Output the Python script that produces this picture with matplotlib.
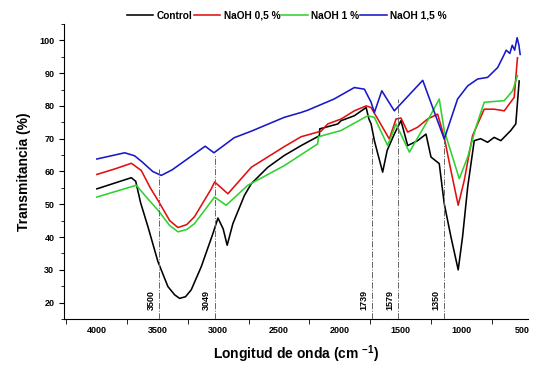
import numpy as np
import matplotlib.pyplot as plt
from matplotlib.ticker import MultipleLocator, FixedLocator

plt.rcParams['font.family'] = ['Liberation Sans', 'DejaVu Sans']
plt.rcParams['font.weight'] = 'bold'
plt.rcParams['mathtext.fontset'] = 'custom'
plt.rcParams['mathtext.bf'] = 'Liberation Sans:bold'
plt.rcParams['mathtext.rm'] = 'Liberation Sans:bold'

# wavenumber (cm-1) / transmittance (%)
control_wn = [4000, 3850, 3716, 3680, 3640, 3579, 3497, 3415, 3360, 3319, 3270, 3223, 3141,
              3044, 3003, 2960, 2927, 2880, 2785, 2728, 2592, 2456, 2318, 2168, 2165, 2016,
              1989, 1880, 1783, 1760, 1742, 1715, 1687, 1647, 1610, 1551, 1496, 1441, 1359,
              1290, 1249, 1181, 1140, 1085, 1025, 989, 947, 893, 840, 783, 729, 674, 592,
              551, 523]
control_t = [54.7, 56.5, 58.1, 57.0, 50.5, 43.1, 32.5, 24.9, 22.4, 21.3, 21.8, 23.9, 30.9,
             41.1, 45.8, 42.5, 37.5, 44.1, 52.7, 56.3, 61.3, 64.9, 67.9, 70.9, 73.0, 74.5,
             75.5, 77.0, 79.5, 76.0, 74.5, 69.4, 65.4, 59.8, 66.4, 71.4, 75.5, 67.9, 69.4,
             71.4, 64.4, 62.4, 50.2, 40.1, 30.0, 40.1, 55.2, 69.4, 70.0, 68.9, 70.4, 69.4,
             72.5, 74.5, 87.6]

naoh05_wn = [4000, 3850, 3716, 3634, 3560, 3497, 3400, 3332, 3260, 3196, 3058, 3030, 2921,
             2728, 2456, 2318, 2154, 2099, 1989, 1880, 1783, 1742, 1592, 1537, 1496, 1441,
             1359, 1277, 1194, 1140, 1085, 1025, 975, 907, 811, 729, 646, 564, 537]
naoh05_t = [59.1, 60.8, 62.5, 60.3, 55.0, 51.2, 45.0, 42.9, 43.8, 46.2, 54.7, 56.8, 53.2,
            61.3, 67.6, 70.6, 72.3, 74.5, 76.0, 78.5, 80.0, 79.5, 69.9, 76.0, 76.3, 72.0,
            73.5, 76.0, 77.5, 70.4, 60.3, 49.7, 57.3, 70.9, 79.0, 79.0, 78.5, 82.6, 94.7]

naoh1_wn = [4000, 3675, 3600, 3497, 3400, 3332, 3260, 3196, 3031, 2935, 2757, 2456, 2182,
            2175, 1989, 1770, 1715, 1606, 1537, 1427, 1277, 1181, 1140, 1016, 947, 879, 811,
            646, 577, 537]
naoh1_t = [52.2, 55.8, 52.5, 48.2, 43.5, 41.6, 42.3, 44.1, 52.2, 49.7, 55.8, 61.8, 68.4,
           70.6, 72.5, 77.0, 76.5, 67.9, 74.5, 65.9, 75.5, 82.1, 72.5, 57.8, 64.4, 73.5,
           81.1, 81.6, 84.6, 89.2]

naoh15_wn = [4000, 3771, 3690, 3630, 3540, 3470, 3380, 3108, 3036, 2869, 2728, 2458, 2318,
             2263, 2047, 1880, 1797, 1742, 1715, 1654, 1551, 1317, 1140, 1030, 947, 865, 783,
             700, 646, 630, 600, 580, 560, 540, 525, 515]
naoh15_t = [63.8, 65.7, 64.8, 63.0, 60.0, 58.8, 60.5, 67.7, 65.7, 70.3, 72.3, 76.5, 78.0,
            78.7, 82.1, 85.6, 85.1, 81.1, 78.0, 84.6, 78.5, 87.8, 69.9, 82.1, 86.1, 88.2,
            88.7, 91.7, 95.7, 97.0, 96.0, 98.5, 97.0, 100.8, 98.5, 95.7]

series = [
    ('Control', control_wn, control_t, 'black'),
    ('NaOH 0,5 %', naoh05_wn, naoh05_t, '#e01010'),
    ('NaOH 1 %', naoh1_wn, naoh1_t, '#2fd12f'),
    ('NaOH 1,5 %', naoh15_wn, naoh15_t, '#1818c8'),
]

# marked bands: line position, label, top of the line
band_pos = [3488, 3031, 1737, 1523, 1140]
band_label = ['3500', '3049', '1739', '1579', '1350']
band_top = [60.8, 64.9, 70.9, 82.0, 69.4]

fig = plt.figure(figsize=(5.57, 3.74), dpi=100)
ax = fig.add_axes([0.115, 0.147, 0.833, 0.789])

for name, wn, t, c in series:
    ax.plot(wn, t, color=c, lw=1.15, label=name)

for pos, lab, top in zip(band_pos, band_label, band_top):
    ax.plot([pos, pos], [15, top], color='#666666', lw=0.7, ls='-.')
    ax.annotate(lab, xy=(pos, 17.6), xytext=(-8, 0), textcoords='offset pixels',
                rotation=90, ha='center', va='bottom', fontsize=6.5)

ax.set_xlim(4270, 450)
ax.set_ylim(15, 105)
ax.spines['top'].set_visible(False)
ax.spines['right'].set_visible(False)

ax.xaxis.set_major_locator(FixedLocator([4000, 3500, 3000, 2500, 2000, 1500, 1000, 500]))
ax.xaxis.set_minor_locator(FixedLocator([4250, 3750, 3250, 2750, 2250, 1750, 1250, 750]))
ax.tick_params(axis='x', which='major', length=0, labelsize=6.5, pad=5)
ax.tick_params(axis='x', which='minor', length=3.5, direction='out')
ax.yaxis.set_major_locator(MultipleLocator(10))
ax.yaxis.set_minor_locator(MultipleLocator(5))
ax.set_yticks([20, 30, 40, 50, 60, 70, 80, 90, 100])
ax.tick_params(axis='y', which='major', length=3.5, labelsize=6.5)
ax.tick_params(axis='y', which='minor', length=2)

ax.set_xlabel(r'Longitud de onda (cm $^{\mathbf{-1}}$)', fontsize=10, fontweight='bold', labelpad=6)
ax.set_ylabel('Transmitancia (%)', fontsize=10, fontweight='bold', labelpad=6)

fig.legend(loc='upper center', bbox_to_anchor=(0.515, 0.995), ncol=4, frameon=False,
           fontsize=7.3, handlelength=2.6, handletextpad=0.35, columnspacing=0.1)

fig.savefig('out.png', dpi=100)
